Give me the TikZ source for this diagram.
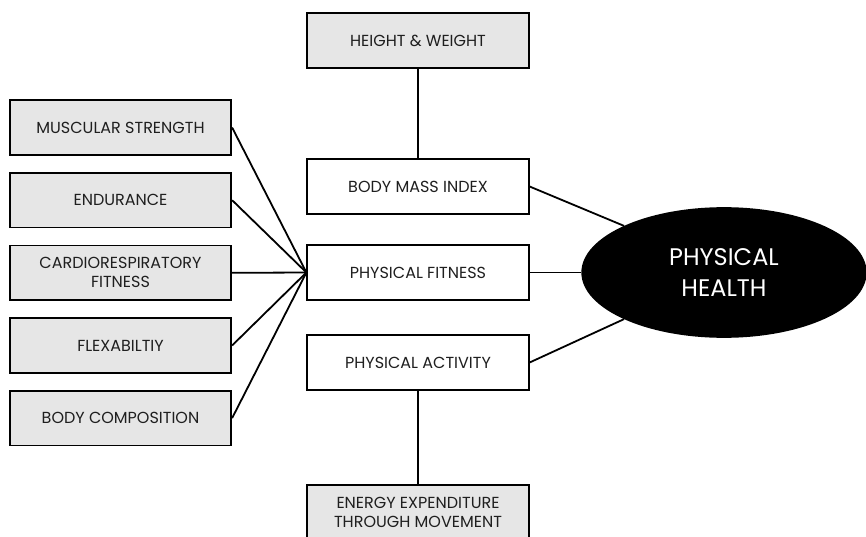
\documentclass[tikz,border=0pt]{standalone}
\usepackage{fontspec}
\setmainfont{Poppins}
\usepackage{xcolor}
\usepackage{tikz}
\usetikzlibrary{shapes.geometric}
\definecolor{boxgray}{rgb}{0.902,0.902,0.902}
\definecolor{inkgray}{rgb}{0.12,0.12,0.12}
\tikzset{%
  graybox/.style={rectangle, draw=black, fill=boxgray, text=inkgray, line width=1.4pt, minimum width=166pt, minimum height=41pt, inner sep=2pt, align=center, font=\fontsize{12}{14.3}\selectfont},
  whitebox/.style={graybox, fill=white},
  healthnode/.style={ellipse, fill=black, text=white, minimum width=214pt, minimum height=98pt, inner sep=0pt, outer sep=0pt, align=center, font=\fontsize{18}{23}\selectfont},
  link/.style={line width=1.35pt}
}

\begin{document}
\begin{tikzpicture}[x=0.75pt, y=0.75pt]
        \useasboundingbox (0,0) rectangle (866,536);

        % left column
        \node [graybox] at (120.5,408.5)                   (mus) {MUSCULAR STRENGTH};
        \node [graybox, below of=mus, node distance=54.5pt] (end) {ENDURANCE};
        \node [graybox, below of=end, node distance=54.5pt] (car) {CARDIORESPIRATORY\\FITNESS};
        \node [graybox, below of=car, node distance=54.5pt] (flx) {FLEXABILTIY};
        \node [graybox, below of=flx, node distance=54.5pt] (bdc) {BODY COMPOSITION};

        % middle column
        \node [graybox] at (418,495.5)                       (hgw) {HEIGHT \& WEIGHT};
        \node [whitebox, below of=hgw, node distance=109.5pt] (bmi) {BODY MASS INDEX};
        \node [whitebox, below of=bmi, node distance=64.5pt]  (fit) {PHYSICAL FITNESS};
        \node [whitebox, below of=fit, node distance=67.5pt]  (act) {PHYSICAL ACTIVITY};
        \node [graybox, below of=act, node distance=112.5pt]  (nrg) {ENERGY EXPENDITURE\\THROUGH MOVEMENT};

        \node [healthnode, right of=fit, node distance=229.5pt] (hlt) {PHYSICAL\\HEALTH};

        \draw [link] (hgw) -- (bmi);
        \draw [link] (act) -- (nrg);
        \foreach \n in {mus,end,car,flx,bdc}
            \draw [link] (\n.east) -- (fit.west);
        \draw [link] (bmi.east) -- (hlt.155);
        \draw [link] (fit.east) -- (hlt.west);
        \draw [link] (act.east) -- (hlt.205);
    \end{tikzpicture}
\end{document}
